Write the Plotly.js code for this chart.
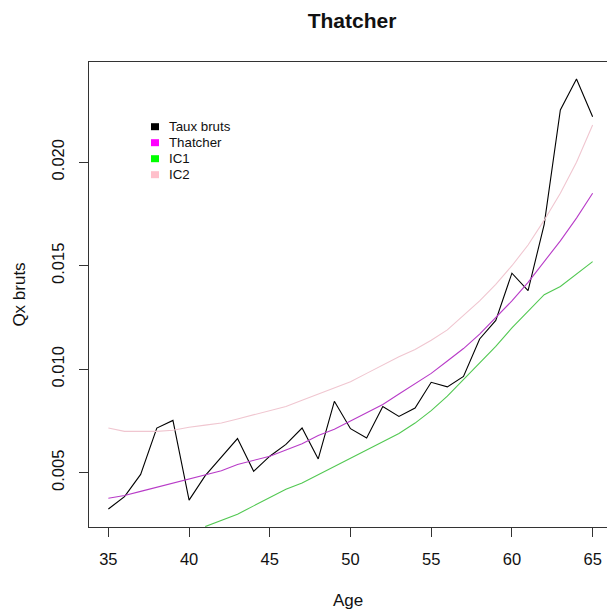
<!DOCTYPE html>
<html>
<head>
<meta charset="utf-8">
<script src="https://cdn.plot.ly/plotly-3.0.1.min.js"></script>
<style>
  html, body { margin: 0; padding: 0; background: #ffffff; }
  #chart { width: 607px; height: 611px; }
</style>
</head>
<body>
<div id="chart"></div>
<script>
// ---- data ----
const ages = [35,36,37,38,39,40,41,42,43,44,45,46,47,48,49,50,51,52,53,54,55,56,57,58,59,60,61,62,63,64,65];
const tauxBruts = [0.00325,0.00385,0.00492,0.00716,0.00753,0.00368,0.00486,0.00576,0.00665,0.00507,
                   0.00580,0.00637,0.00716,0.00567,0.00845,0.00713,0.00668,0.00820,0.00772,0.00813,
                   0.00937,0.00915,0.00965,0.01146,0.01236,0.01464,0.01380,0.01700,0.02252,0.02402,0.02220];
const thatcher = [0.00377,0.00390,0.00410,0.00430,0.00450,0.00468,0.00490,0.00510,0.00540,0.00560,
                  0.00580,0.00610,0.00640,0.00680,0.00710,0.00750,0.00790,0.00830,0.00880,0.00930,
                  0.00980,0.01040,0.01100,0.01170,0.01250,0.01330,0.01420,0.01520,0.01620,0.01730,0.01850];
const ic1 = [null,null,null,null,null,null,0.00240,0.00270,0.00300,0.00340,
             0.00380,0.00420,0.00450,0.00490,0.00530,0.00570,0.00610,0.00650,0.00690,0.00740,
             0.00800,0.00870,0.00950,0.01030,0.01110,0.01200,0.01280,0.01360,0.01400,0.01460,0.01520];
const ic2 = [0.00716,0.00700,0.00700,0.00700,0.00705,0.00720,0.00730,0.00740,0.00760,0.00780,
             0.00800,0.00820,0.00850,0.00880,0.00910,0.00940,0.00980,0.01020,0.01060,0.01095,
             0.01140,0.01190,0.01260,0.01330,0.01410,0.01500,0.01600,0.01720,0.01850,0.02000,0.02180];
const seriesNames = ['Taux bruts','Thatcher','IC1','IC2'];
const lineColors = ['#000000','#b83cc8','#52c852','#f0c6d0'];
const legendColors = ['#000000','#ff00ff','#00ff00','#ffc0cb'];
const xTicks = [35,40,45,50,55,60,65];
const yTicks = [0.005,0.010,0.015,0.020];
const yTickLabels = ['0.005','0.010','0.015','0.020'];

const FONT = 'Liberation Sans, Arial, Helvetica, sans-serif';
const seriesValues = [tauxBruts, thatcher, ic1, ic2];

const W = 607, H = 611, M = { l: 89, r: 0, t: 62, b: 84 };
const PW = W - M.l - M.r, PH = H - M.t - M.b;
const px2x = px => (px - M.l) / PW;
const px2y = py => 1 - (py - M.t) / PH;

const traces = seriesValues.map((vals, i) => ({
  x: ages, y: vals, type: 'scatter', mode: 'lines', name: seriesNames[i],
  line: { color: lineColors[i], width: 1.1 },
  connectgaps: false, showlegend: false, hoverinfo: 'skip'
}));

// legend drawn in the style of R's legend(fill=...) : small squares + labels
const legendRowY = [126.7, 142.7, 158.7, 174.7];
const annotations = [];
const shapes = [];
seriesNames.forEach((nm, i) => {
  annotations.push({
    xref: 'paper', yref: 'paper', x: px2x(166.5), y: px2y(legendRowY[i]),
    xanchor: 'left', yanchor: 'middle', showarrow: false, text: nm,
    font: { family: FONT, size: 13.3, color: '#111111' }
  });
  shapes.push({
    type: 'rect', xref: 'paper', yref: 'paper',
    x0: px2x(151), x1: px2x(159), y0: px2y(legendRowY[i] + 3.5), y1: px2y(legendRowY[i] - 3.5),
    fillcolor: legendColors[i], line: { width: 0 }
  });
});

const layout = {
  width: W, height: H,
  margin: M,
  paper_bgcolor: '#ffffff', plot_bgcolor: '#ffffff',
  font: { family: FONT, color: '#111111' },
  title: {
    text: 'Thatcher',
    font: { family: FONT, size: 21, weight: 'bold', color: '#111111' },
    x: 0.58, xanchor: 'center', xref: 'container',
    y: 0.967, yanchor: 'middle', yref: 'container'
  },
  xaxis: {
    range: [33.8, 65.89],
    tickmode: 'array', tickvals: xTicks, ticktext: xTicks.map(String),
    ticks: 'outside', ticklen: 9, tickwidth: 1, tickcolor: '#333333',
    tickfont: { family: FONT, size: 16.5, color: '#111111' },
    ticklabelstandoff: 8,
    showline: true, linecolor: '#333333', linewidth: 1, mirror: true,
    showgrid: false, zeroline: false,
    title: { text: 'Age', font: { family: FONT, size: 17, color: '#111111' }, standoff: 27 }
  },
  yaxis: {
    range: [0.00238, 0.02484],
    tickmode: 'array', tickvals: yTicks, ticktext: yTickLabels,
    tickangle: -90,
    ticks: 'outside', ticklen: 9, tickwidth: 1, tickcolor: '#333333',
    tickfont: { family: FONT, size: 16.5, color: '#111111' },
    ticklabelstandoff: 8,
    showline: true, linecolor: '#333333', linewidth: 1, mirror: false,
    showgrid: false, zeroline: false,
    title: { text: 'Qx bruts', font: { family: FONT, size: 17, color: '#111111' }, standoff: 19 }
  },
  showlegend: false,
  annotations: annotations,
  shapes: shapes
};

Plotly.newPlot('chart', traces, layout, { displayModeBar: false, staticPlot: true });
</script>
</body>
</html>
